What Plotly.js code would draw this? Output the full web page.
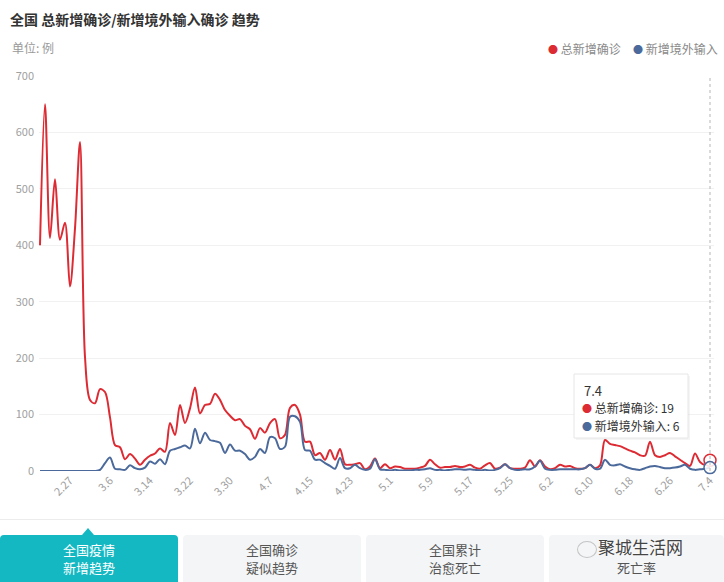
<!DOCTYPE html>
<html>
<head>
<meta charset="utf-8">
<script src="https://cdn.plot.ly/plotly-3.0.1.min.js"></script>
<style>
  html, body { margin:0; padding:0; background:#fff; }
  #wrap { position:relative; width:724px; height:582px; overflow:hidden; font-family:"Noto Sans CJK SC","Noto Sans",sans-serif; }
  #chart { position:absolute; left:0; top:0; width:724px; height:582px; }
  .sep { position:absolute; left:0; top:519px; width:724px; height:1px; background:#ececec; }
  .tab { position:absolute; top:535px; height:50px; border-radius:4px 4px 0 0; text-align:center; font-size:13px; line-height:18px; padding-top:6px; box-sizing:border-box; }
  .tab.on { background:#14b8c2; color:#fff; }
  .tab.off { background:#f4f5f7; color:#555; }
  .ptr { position:absolute; left:82px; top:528px; width:0; height:0; border-left:6px solid transparent; border-right:6px solid transparent; border-bottom:7px solid #14b8c2; }
  .wm { position:absolute; left:598px; top:537px; font-size:17px; line-height:20px; color:#444; text-shadow:0 0 2px #fff, 0 0 2px #fff; }
  .wmicon { position:absolute; left:577px; top:541px; width:18px; height:15px; border:1px solid #c4c4c4; border-radius:50%; }
</style>
</head>
<body>
<div id="wrap">
  <div id="chart"></div>
  <div class="sep"></div>
  <div class="ptr"></div>
  <div class="tab on" style="left:0;width:178px;">全国疫情<br>新增趋势</div>
  <div class="tab off" style="left:183px;width:178px;">全国确诊<br>疑似趋势</div>
  <div class="tab off" style="left:366px;width:178px;">全国累计<br>治愈死亡</div>
  <div class="tab off" style="left:549px;width:175px;padding-top:24px;">死亡率</div>
  <div class="wmicon"></div>
  <div class="wm">聚城生活网</div>
</div>
<script>
// ---- categories (dates) ----
const dates = [
 '2.21','2.22','2.23','2.24','2.25','2.26','2.27','2.28','2.29',
 '3.1','3.2','3.3','3.4','3.5','3.6','3.7','3.8','3.9','3.10','3.11','3.12','3.13','3.14','3.15','3.16','3.17','3.18','3.19','3.20','3.21','3.22','3.23','3.24','3.25','3.26','3.27','3.28','3.29','3.30','3.31',
 '4.1','4.2','4.3','4.4','4.5','4.6','4.7','4.8','4.9','4.10','4.11','4.12','4.13','4.14','4.15','4.16','4.17','4.18','4.19','4.20','4.21','4.22','4.23','4.24','4.25','4.26','4.27','4.28','4.29','4.30',
 '5.1','5.2','5.3','5.4','5.5','5.6','5.7','5.8','5.9','5.10','5.11','5.12','5.13','5.14','5.15','5.16','5.17','5.18','5.19','5.20','5.21','5.22','5.23','5.24','5.25','5.26','5.27','5.28','5.29','5.30','5.31',
 '6.1','6.2','6.3','6.4','6.5','6.6','6.7','6.8','6.9','6.10','6.11','6.12','6.13','6.14','6.15','6.16','6.17','6.18','6.19','6.20','6.21','6.22','6.23','6.24','6.25','6.26','6.27','6.28','6.29','6.30',
 '7.1','7.2','7.3','7.4'
];

// ---- series values ----
const totalNew = [
 400,650,413,517,410,440,327,430,583,202,
 126,120,145,140,95,46,42,21,30,22,
 11,20,27,31,40,34,85,64,117,85,
 111,148,102,117,119,137,126,108,98,90,
 92,80,74,57,76,68,85,92,58,64,
 112,117,100,52,52,28,32,20,37,20,
 39,12,11,12,14,3,8,22,5,12,
 5,8,7,4,4,4,6,9,20,12,
 6,7,7,9,7,8,11,6,4,10,
 14,4,6,12,5,4,4,6,19,8,
 19,8,3,5,11,8,9,5,4,5,
 11,5,10,55,48,46,44,40,36,33,
 28,27,52,28,25,28,32,26,20,14,
 9,31,16,11,19
];
const importedNew = [
 0,0,0,0,0,0,0,0,0,0,
 0,0,2,14,24,4,3,2,10,5,
 3,6,17,13,21,12,36,39,42,45,
 40,75,49,68,55,53,50,32,47,36,
 36,30,20,25,39,32,60,58,39,43,
 96,97,87,37,36,20,20,14,9,4,
 23,5,5,11,5,2,4,21,3,2,
 1,2,1,1,1,2,2,3,5,2,
 2,1,2,3,3,2,3,2,1,2,
 1,2,5,12,5,2,2,3,3,8,
 18,4,2,2,3,3,3,3,3,5,
 11,4,4,20,11,10,12,8,5,3,
 2,5,8,9,7,5,5,6,8,11,
 4,2,3,4,6
];

// ---- tick labels ----
const tickLabels = ['2.27','3.6','3.14','3.22','3.30','4.7','4.15','4.23','5.1','5.9','5.17','5.25','6.2','6.10','6.18','6.26','7.4'];
const yTicks = [0,100,200,300,400,500,600,700];

const seriesNames = ['总新增确诊','新增境外输入'];
const RED = '#dd2b34', BLUE = '#4b6a9b';

const last = dates.length - 1;
const lastDate = dates[last];

const traces = [
  { x: dates, y: totalNew, name: seriesNames[0], type:'scatter', mode:'lines',
    line:{color:RED, width:2, shape:'spline', smoothing:0.9}, hoverinfo:'skip', showlegend:false },
  { x: dates, y: importedNew, name: seriesNames[1], type:'scatter', mode:'lines',
    line:{color:BLUE, width:2, shape:'spline', smoothing:0.9}, hoverinfo:'skip', showlegend:false },
  { x:[lastDate], y:[totalNew[last]], type:'scatter', mode:'markers', showlegend:false, hoverinfo:'skip',
    marker:{symbol:'circle', size:12, color:'rgba(255,255,255,0.85)', line:{color:RED, width:1.5}}, cliponaxis:false },
  { x:[lastDate], y:[importedNew[last]], type:'scatter', mode:'markers', showlegend:false, hoverinfo:'skip',
    marker:{symbol:'circle', size:12, color:'rgba(255,255,255,0.85)', line:{color:BLUE, width:1.5}}, cliponaxis:false }
];

// helpers to convert pixel positions into paper coords
const L = 39, R = 10, T = 76, B = 111, W = 724, H = 582;
const pw = W - L - R, ph = H - T - B;
const px = v => (v - L) / pw;
const py = v => (H - B - v) / ph;

const dot = c => `<span style="color:${c};font-size:10px">●</span>`;

const annotations = [
  { text:'单位: 例', xref:'paper', yref:'paper', x:px(10), y:py(47), xanchor:'left', yanchor:'middle', showarrow:false,
    font:{size:12, color:'#999'} },
  { text: dot(RED) + ' ' + seriesNames[0], xref:'paper', yref:'paper', x:px(546), y:py(48), xanchor:'left', yanchor:'middle', showarrow:false,
    font:{size:12, color:'#8a8a8a'} },
  { text: dot(BLUE) + ' ' + seriesNames[1], xref:'paper', yref:'paper', x:px(631), y:py(48), xanchor:'left', yanchor:'middle', showarrow:false,
    font:{size:12, color:'#8a8a8a'} },
  { text: lastDate, xref:'paper', yref:'paper', x:px(582), y:py(390), xanchor:'left', yanchor:'middle', showarrow:false,
    font:{size:13, color:'#333'} },
  { text: dot(RED) + ' ' + seriesNames[0] + ': ' + totalNew[last], xref:'paper', yref:'paper', x:px(580), y:py(407), xanchor:'left', yanchor:'middle', showarrow:false,
    font:{size:12, color:'#333'} },
  { text: dot(BLUE) + ' ' + seriesNames[1] + ': ' + importedNew[last], xref:'paper', yref:'paper', x:px(580), y:py(425), xanchor:'left', yanchor:'middle', showarrow:false,
    font:{size:12, color:'#333'} }
];

const shapes = [
  // hover crosshair at the last category (index position on the category axis)
  { type:'line', xref:'x', yref:'paper', x0:last, x1:last, y0:0, y1:1,
    line:{color:'#b5b5b5', width:1, dash:'dot'} },
  { type:'rect', xref:'paper', yref:'paper', x0:px(576), x1:px(690), y0:py(376), y1:py(440),
    fillcolor:'rgba(0,0,0,0.04)', line:{width:0}, layer:'above' },
  { type:'rect', xref:'paper', yref:'paper', x0:px(574), x1:px(688), y0:py(374), y1:py(438),
    fillcolor:'#ffffff', line:{color:'#e6e6e6', width:1}, layer:'above' }
];

const layout = {
  width:W, height:H,
  margin:{l:L, r:R, t:T, b:B, pad:0},
  paper_bgcolor:'rgba(0,0,0,0)', plot_bgcolor:'#fff',
  font:{family:'"Noto Sans CJK SC","Noto Sans",sans-serif', color:'#999'},
  title:{ text:'<b>全国 总新增确诊/新增境外输入确诊 趋势</b>', xref:'container', yref:'container',
          x:10/W, xanchor:'left', y:1-20/H, yanchor:'middle', font:{size:14, color:'#333'} },
  xaxis:{ type:'category', range:[-0.2, last + 0.8], tickmode:'array', tickvals:tickLabels, ticktext:tickLabels,
          tickangle:-45, tickfont:{size:11, color:'#a0a0a0'}, showgrid:false, zeroline:false, showline:false, ticks:'',
          fixedrange:true },
  yaxis:{ range:[0,700], tickmode:'array', tickvals:yTicks, tickfont:{size:11, color:'#a0a0a0'},
          gridcolor:'#f1f1f1', gridwidth:1, zeroline:false, showline:false, ticks:'', ticklabelstandoff:4, fixedrange:true },
  showlegend:false,
  annotations, shapes,
  hovermode:false
};

Plotly.newPlot('chart', traces, layout, {displayModeBar:false, staticPlot:true});
</script>
</body>
</html>
